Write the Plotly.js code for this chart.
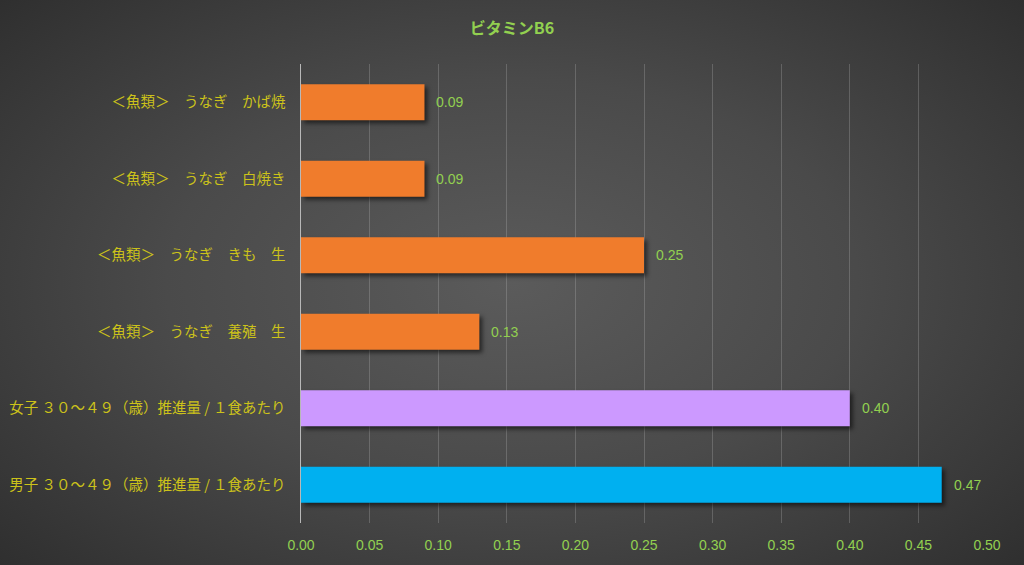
<!DOCTYPE html>
<html><head><meta charset="utf-8">
<script src="https://cdn.plot.ly/plotly-3.0.1.min.js"></script>
<style>
html,body{margin:0;padding:0;}
#chart{width:1024px;height:565px;background:radial-gradient(ellipse 75% 80% at 50% 50%, #5b5b5b 0%, #4a4a4a 45%, #2a2a2a 100%);}
#chart .bars path{filter:drop-shadow(3px 3px 2px rgba(0,0,0,0.55));}
</style></head>
<body><div id="chart"></div>
<script>
const categories = [
  "男子 ３０～４９（歳）推進量 / １食あたり",
  "女子 ３０～４９（歳）推進量 / １食あたり",
  "＜魚類＞　うなぎ　養殖　生",
  "＜魚類＞　うなぎ　きも　生",
  "＜魚類＞　うなぎ　白焼き",
  "＜魚類＞　うなぎ　かば焼"
];
const values = [0.467, 0.40, 0.13, 0.25, 0.09, 0.09];
const barColors = ["#00B0F0", "#CC99FF", "#F07C2C", "#F07C2C", "#F07C2C", "#F07C2C"];
const tickVals = [0,0.05,0.10,0.15,0.20,0.25,0.30,0.35,0.40,0.45,0.50];
const tickText = ["0.00","0.05","0.10","0.15","0.20","0.25","0.30","0.35","0.40","0.45","0.50"];

const numFont = "Liberation Sans Narrow, Liberation Sans, sans-serif";
const trace = {
  type: "bar", orientation: "h",
  y: categories, x: values,
  width: 0.47,
  marker: {color: barColors, line: {width: 0}},
  hoverinfo: "x+y"
};
const annotations = values.map((v, i) => ({
  x: v, y: categories[i], xref: "x", yref: "y",
  text: v.toFixed(2), showarrow: false, xanchor: "left", yanchor: "middle", xshift: 10,
  font: {family: numFont, size: 14, color: "#92D050"}
}));
const layout = {
  width: 1024, height: 565,
  paper_bgcolor: "rgba(0,0,0,0)", plot_bgcolor: "rgba(0,0,0,0)",
  margin: {l: 301, r: 37, t: 64, b: 42, pad: 0},
  title: {text: "<b>ビタミンB6</b>", x: 0.5, xanchor: "center", y: 0.95, yanchor: "middle",
          font: {family: "Noto Sans CJK JP, sans-serif", size: 16, color: "#92D050"}},
  showlegend: false,
  annotations: annotations,
  xaxis: {range: [0, 0.5], tickvals: tickVals, ticktext: tickText,
          showgrid: true, gridcolor: "rgba(200,200,200,0.25)", gridwidth: 1,
          zeroline: false, showline: false, ticks: "", ticklabelstandoff: 12,
          tickfont: {family: numFont, size: 14, color: "#92D050"},
          fixedrange: true},
  yaxis: {type: "category", showgrid: false, zeroline: false,
          showline: true, linecolor: "#b8b8b8", linewidth: 1.5, ticks: "", ticklabelstandoff: 11,
          tickfont: {family: "Noto Sans CJK JP, sans-serif", size: 14.5, color: "#CCC21A"},
          fixedrange: true},
  bargap: 0.53
};
Plotly.newPlot("chart", [trace], layout, {displayModeBar: false, staticPlot: true});
</script></body></html>
